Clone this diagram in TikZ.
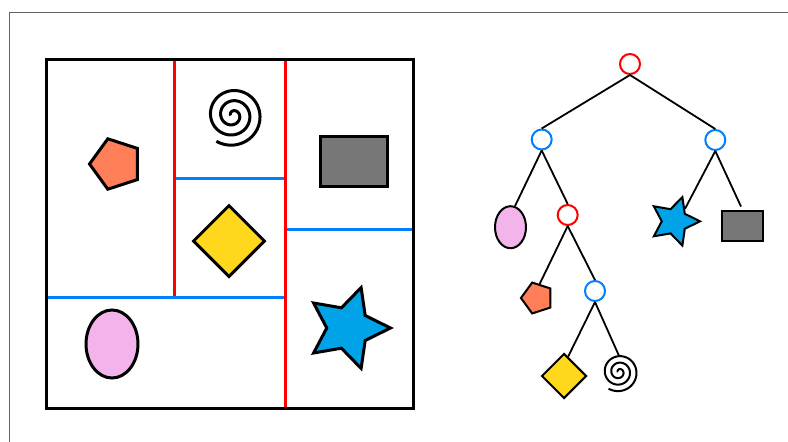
\documentclass[tikz,border=0pt]{standalone}
\usetikzlibrary{shapes.geometric}
\definecolor{cutblue}{RGB}{0,128,255}
\definecolor{pentfill}{RGB}{255,127,88}
\definecolor{diafill}{RGB}{255,215,28}
\definecolor{boxfill}{RGB}{119,119,119}
\definecolor{ovalfill}{RGB}{242,180,234}
\definecolor{starfill}{RGB}{0,163,232}
\definecolor{framegray}{RGB}{100,100,100}
\tikzset{coil/.pic={\draw plot[domain=180:1202, samples=240, smooth] ({(-3.3+0.0283*\x)*cos(\x)}, {(-3.3+0.0283*\x)*sin(\x)});}}
\begin{document}
\begin{tikzpicture}[
    x=1pt, y=-1pt,
    xcut/.style={red, line width=3pt},
    ycut/.style={cutblue, line width=3pt},
    thickshape/.style={draw, line width=3pt, inner sep=0pt},
    thinshape/.style={draw, line width=2pt, inner sep=0pt},
    pent/.style={regular polygon, regular polygon sides=5, shape border rotate=90, fill=pentfill},
    dia/.style={diamond, fill=diafill},
    blk/.style={rectangle, fill=boxfill},
    oval/.style={ellipse, fill=ovalfill},
    starshape/.style={star, star points=5, star point ratio=2, shape border rotate=-90, fill=starfill},
    split/.style={circle, draw, line width=2pt, minimum size=20pt, inner sep=0pt, fill=white},
    edge/.style={line width=1.8pt}
]
    \path[use as bounding box, fill=white] (0,0) rectangle (788,442);
    \draw[framegray, line width=1.3pt] (9.5,442) |- (788,12.5);

    % 划分
    \draw[ycut] (46.7,297.7) -- (285,297.7);
    \draw[ycut] (174.5,178.3) -- (285,178.3);
    \draw[ycut] (285,229.5) -- (413.5,229.5);
    \draw[xcut] (174.5,59) -- (174.5,296.2);
    \draw[xcut] (285,59) -- (285,408.3);
    \draw[line width=3pt] (46.7,59) rectangle (413.5,408.3);

    % 区域里的图形
    \node[thickshape, pent, minimum size=53pt] (lpe) at (116,164) {};
    \pic[line width=3pt] at (232.7,115.3) {coil};
    \node[thickshape, dia, minimum width=72pt, minimum height=72pt] (ldm) at (229,241) {};
    \node[thickshape, blk, minimum width=67pt, minimum height=50pt] (lre) at (354,161.3) {};
    \node[thickshape, starshape, minimum size=85pt] (lst) at (348,328) {};
    \node[thickshape, oval, minimum width=52pt, minimum height=68pt] (lel) at (112,344) {};

    % 树的结点
    \node[split, draw=red] (root) at (630,64) {};
    \node[split, draw=cutblue] (lb) at (541.7,139.5) {};
    \node[split, draw=cutblue] (rb) at (715.3,140) {};
    \node[split, draw=red] (rc) at (567.7,215) {};
    \node[split, draw=cutblue] (bc) at (595,291) {};

    % 叶子
    \node[thinshape, oval, minimum width=31pt, minimum height=42pt] (el) at (510.5,227.2) {};
    \node[thinshape, pent, minimum size=32.5pt] (pe) at (537.2,298) {};
    \node[thinshape, dia, minimum width=45pt, minimum height=45pt] (dm) at (564,376) {};
    \node[inner sep=0pt, minimum size=32pt] (sp) at (619,372) {};
    \pic[line width=2pt, scale=0.64] at (sp) {coil};
    \node[thinshape, starshape, minimum size=51pt] (st) at (674.5,221.3) {};
    \node[thinshape, blk, minimum width=41pt, minimum height=30pt] (re) at (742.7,226.2) {};

    % 边
    \draw[edge] (root.south) -- (lb.north);
    \draw[edge] (root.south) -- (rb.north);
    \draw[edge] (lb.south) -- (el.78);
    \draw[edge] (lb.south) -- (rc.north);
    \draw[edge] (rc.south) -- (pe.80);
    \draw[edge] (rc.south) -- (bc.north);
    \draw[edge] (bc.south) -- (dm.78);
    \draw[edge] (bc.south) -- (sp.north);
    \draw[edge] (rb.south) -- (st.50);
    \draw[edge, shorten >=4pt] (rb.south) -- (re.north);
\end{tikzpicture}
\end{document}
